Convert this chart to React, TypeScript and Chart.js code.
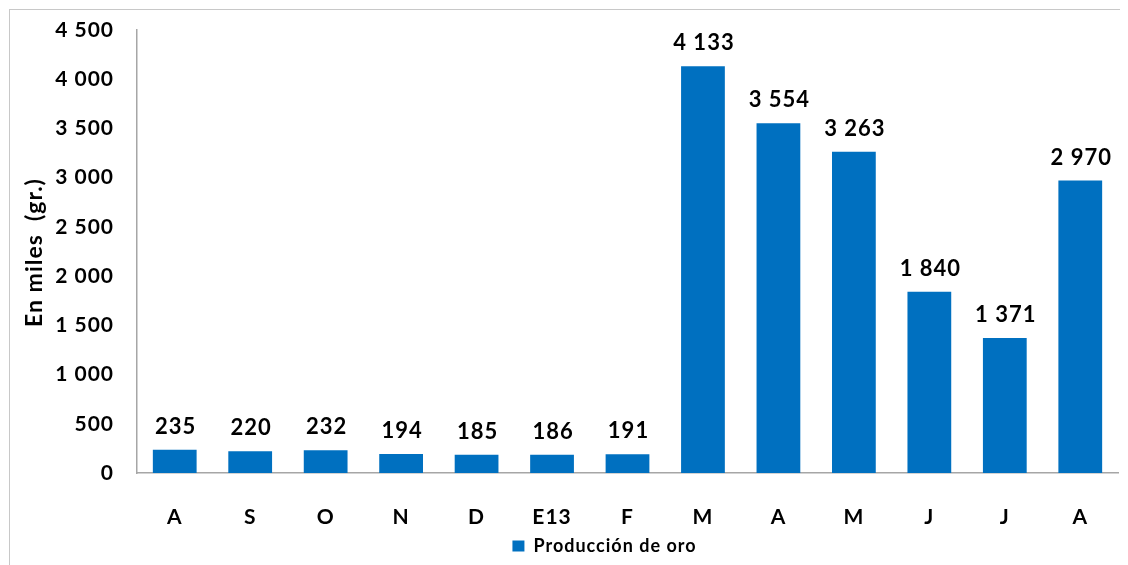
import React, { useEffect, useRef } from "react";
import { Chart, registerables } from "chart.js";

Chart.register(...registerables);

const categories = ["A", "S", "O", "N", "D", "E13", "F", "M", "A", "M", "J", "J", "A"];
const production = [235, 220, 232, 194, 185, 186, 191, 4133, 3554, 3263, 1840, 1371, 2970];
const seriesLabel = "Producción de oro";
const yTitle = "En miles  (gr.)";
const yMin = 0;
const yMax = 4500;
const yStep = 500;

const FONT = "Lato, 'Open Sans', sans-serif";
const LS = "1px";

function fmt(v: number): string {
  if (v >= 1000) {
    const th = Math.floor(v / 1000);
    const rest = String(v % 1000).padStart(3, "0");
    return th + " " + rest;
  }
  return String(v);
}

const spacing = {
  id: "spacing",
  beforeLayout(chart: any) {
    (chart.ctx as any).letterSpacing = LS;
  },
  afterLayout(chart: any) {
    if (chart.legend) {
      chart.legend.left -= 23;
      chart.legend.right -= 23;
    }
  },
  beforeDraw(chart: any) {
    (chart.ctx as any).letterSpacing = LS;
  },
};

const dataLabels = {
  id: "dataLabels",
  afterDatasetsDraw(chart: any) {
    const ctx = chart.ctx;
    const meta = chart.getDatasetMeta(0);
    const ds = chart.data.datasets[0];
    ctx.save();
    (ctx as any).letterSpacing = LS;
    ctx.font = "bold 22px " + FONT;
    ctx.fillStyle = "#000";
    ctx.textAlign = "center";
    ctx.textBaseline = "alphabetic";
    meta.data.forEach((bar: any, i: number) => {
      ctx.fillText(fmt(ds.data[i] as number), bar.x + 1, bar.y - 16);
    });
    // y axis title
    const ca = chart.chartArea;
    ctx.translate(25, (ca.top + ca.bottom) / 2 + 1);
    ctx.rotate(-Math.PI / 2);
    ctx.font = "bold 23px " + FONT;
    ctx.textBaseline = "middle";
    ctx.fillText(yTitle, 0, 0);
    ctx.restore();
  },
};

export default function App() {
  const ref = useRef<HTMLCanvasElement>(null);
  useEffect(() => {
    document.body.style.overflow = "hidden";
    const chart = new Chart(ref.current!, {
      type: "bar",
      data: {
        labels: categories,
        datasets: [
          {
            label: seriesLabel,
            data: production,
            backgroundColor: "#0070C0",
            borderWidth: 0,
            categoryPercentage: 1,
            barPercentage: 0.58,
          },
        ],
      },
      options: {
        responsive: false,
        animation: false,
        maintainAspectRatio: false,
        layout: { padding: { left: 0, right: 20, top: 20, bottom: 13 } },
        plugins: {
          legend: {
            position: "bottom",
            fullSize: false,
            labels: {
              color: "#000",
              font: { family: FONT, size: 18, weight: "bold" },
              boxWidth: 12,
              boxHeight: 11,
              padding: 8,
            },
          },
          tooltip: { enabled: false },
        },
        scales: {
          x: {
            grid: { display: false, drawTicks: false },
            border: { display: true, color: "#a6a6a6", width: 1.5 },
            ticks: {
              color: "#000",
              font: { family: FONT, size: 21, weight: "bold" },
              padding: 32,
              maxRotation: 0,
              autoSkip: false,
            },
            afterFit: (scale: any) => {
              scale.height = 56;
            },
          },
          y: {
            min: yMin,
            max: yMax,
            grid: { display: false, drawTicks: false },
            border: { display: true, color: "#a6a6a6", width: 1.5 },
            ticks: {
              stepSize: yStep,
              color: "#000",
              font: { family: FONT, size: 21, weight: "bold" },
              padding: 23,
              callback: (v: any) => fmt(Number(v)),
            },
            afterFit: (scale: any) => {
              scale.width = 127;
              scale.paddingTop = 0;
            },
          },
        },
      },
      plugins: [spacing, dataLabels],
    });
    return () => chart.destroy();
  }, []);
  return (
    <div
      style={{
        marginTop: 1,
        marginLeft: 1,
        width: 1130,
        height: 570,
        border: "1px solid #c8c8c8",
        boxSizing: "border-box",
        background: "#fff",
      }}
    >
      <canvas ref={ref} width={1128} height={568} style={{ display: "block" }} />
    </div>
  );
}
